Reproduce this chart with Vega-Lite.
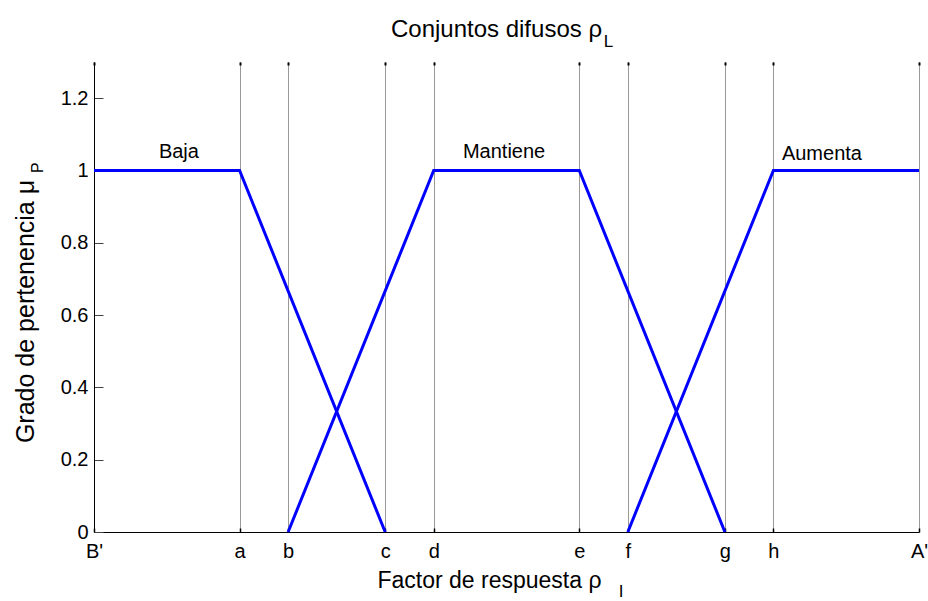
{
  "$schema": "https://vega.github.io/schema/vega-lite/v6.json",
  "width": 825,
  "height": 470,
  "autosize": "none",
  "padding": {"left": 94, "top": 62, "right": 9, "bottom": 69},
  "background": "white",
  "config": {"view": {"stroke": null}, "font": "Liberation Sans"},
  "title": {
    "text": "Conjuntos difusos ρ",
    "fontSize": 24,
    "fontWeight": "normal",
    "color": "black",
    "font": "Liberation Sans",
    "anchor": "middle",
    "frame": "group",
    "dx": -10,
    "dy": 30,
    "baseline": "alphabetic",
    "offset": 2
  },
  "resolve": {"axis": {"x": "independent"}},
  "datasets": {
    "sets": [
      {"set": "Baja", "x": 0, "y": 1},
      {"set": "Baja", "x": 3, "y": 1},
      {"set": "Baja", "x": 6, "y": 0},
      {"set": "Mantiene", "x": 4, "y": 0},
      {"set": "Mantiene", "x": 7, "y": 1},
      {"set": "Mantiene", "x": 10, "y": 1},
      {"set": "Mantiene", "x": 13, "y": 0},
      {"set": "Aumenta", "x": 11, "y": 0},
      {"set": "Aumenta", "x": 14, "y": 1},
      {"set": "Aumenta", "x": 17, "y": 1}
    ],
    "labels": [
      {"x": 1.75, "y": 1.035, "text": "Baja"},
      {"x": 8.45, "y": 1.035, "text": "Mantiene"},
      {"x": 15.0, "y": 1.03, "text": "Aumenta"}
    ],
    "one": [{"k": 1}]
  },
  "layer": [
    {
      "data": {"name": "sets"},
      "mark": {"type": "line", "color": "#0000ff", "strokeWidth": 3},
      "encoding": {
        "x": {
          "field": "x",
          "type": "quantitative",
          "scale": {"domain": [0, 17], "nice": false, "zero": false},
          "axis": {
            "values": [0, 3, 4, 6, 7, 10, 11, 13, 14, 17],
            "labelExpr": "[\"B'\",\"a\",\"b\",\"c\",\"d\",\"e\",\"f\",\"g\",\"h\",\"A'\"][indexof([0,3,4,6,7,10,11,13,14,17], datum.value)]",
            "grid": true,
            "gridColor": "#333333",
            "gridDash": [1, 1],
            "gridWidth": 1,
            "domainColor": "black",
            "domainWidth": 1,
            "tickColor": "black",
            "tickSize": -4,
            "tickWidth": 1.5,
            "labelFontSize": 20,
            "labelColor": "black",
            "labelPadding": 13,
            "labelFlush": false,
            "labelOverlap": false,
            "title": "Factor de respuesta ρ",
            "titleFontSize": 23,
            "titleFontWeight": "normal",
            "titleColor": "black",
            "titleX": 395,
            "titleY": 55,
            "titleAlign": "center",
            "titleBaseline": "alphabetic"
          }
        },
        "y": {
          "field": "y",
          "type": "quantitative",
          "scale": {"domain": [0, 1.3], "nice": false, "zero": false},
          "axis": {
            "values": [0, 0.2, 0.4, 0.6, 0.8, 1, 1.2],
            "format": "~g",
            "grid": false,
            "domainColor": "black",
            "domainWidth": 1,
            "tickColor": "#444444",
            "tickSize": -9,
            "tickWidth": 1,
            "labelFontSize": 20,
            "labelColor": "black",
            "labelPadding": 15,
            "labelFlush": false,
            "labelOverlap": false,
            "title": "Grado de pertenencia μ",
            "titleFontSize": 25,
            "titleFontWeight": "normal",
            "titleColor": "black",
            "titleX": -61,
            "titleY": 249,
            "titleAngle": 270,
            "titleAlign": "center",
            "titleBaseline": "alphabetic"
          }
        },
        "detail": {"field": "set"}
      }
    },
    {
      "data": {"name": "sets"},
      "mark": {"type": "point", "opacity": 0},
      "encoding": {
        "x": {
          "field": "x",
          "type": "quantitative",
          "axis": {
            "orient": "top",
            "values": [0, 3, 4, 6, 7, 10, 11, 13, 14, 17],
            "labels": false,
            "domain": false,
            "grid": false,
            "ticks": true,
            "tickColor": "black",
            "tickSize": -3,
            "tickWidth": 2,
            "title": null
          }
        },
        "y": {"field": "y", "type": "quantitative"}
      }
    },
    {
      "data": {"name": "labels"},
      "mark": {"type": "text", "fontSize": 20, "color": "black", "align": "center", "baseline": "alphabetic"},
      "encoding": {
        "x": {"field": "x", "type": "quantitative", "axis": null},
        "y": {"field": "y", "type": "quantitative"},
        "text": {"field": "text"}
      }
    },
    {
      "data": {"name": "one"},
      "mark": {"type": "text", "text": "L", "fontSize": 17, "color": "black", "align": "center", "baseline": "alphabetic"},
      "encoding": {
        "x": {"datum": 10.6, "type": "quantitative", "axis": null},
        "y": {"datum": 1.3425, "type": "quantitative"}
      }
    },
    {
      "data": {"name": "one"},
      "mark": {"type": "text", "text": "I", "fontSize": 17, "color": "black", "align": "center", "baseline": "alphabetic"},
      "encoding": {
        "x": {"datum": 10.86, "type": "quantitative", "axis": null},
        "y": {"datum": -0.1798, "type": "quantitative"}
      }
    },
    {
      "data": {"name": "one"},
      "mark": {"type": "text", "text": "P", "fontSize": 16, "color": "black", "align": "center", "baseline": "alphabetic", "angle": 270},
      "encoding": {
        "x": {"datum": -1.052, "type": "quantitative", "axis": null},
        "y": {"datum": 1.008, "type": "quantitative"}
      }
    }
  ]
}
